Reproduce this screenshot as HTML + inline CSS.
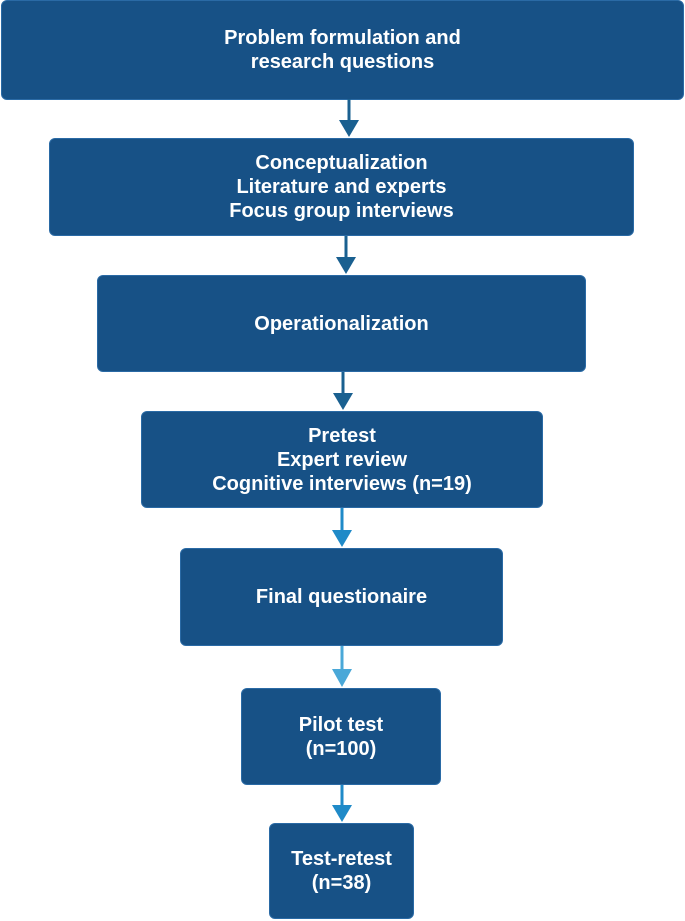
<!DOCTYPE html>
<html><head><meta charset="utf-8"><style>
body{margin:0;width:685px;height:921px;background:#fff;position:relative;overflow:hidden;font-family:"Liberation Sans",sans-serif}
.b{position:absolute;background:#175186;border-radius:6px;color:#fff;font-weight:bold;font-size:20px;line-height:24px;display:flex;align-items:center;justify-content:center;text-align:center;border:1px solid #2a6aa5;box-sizing:border-box}
svg{position:absolute;left:0;top:0}
</style></head><body>
<div class="b" style="left:1px;top:0;width:683px;height:100px">Problem formulation and<br>research questions</div>
<div class="b" style="left:49px;top:138px;width:585px;height:98px">Conceptualization<br>Literature and experts<br>Focus group interviews</div>
<div class="b" style="left:97px;top:275px;width:489px;height:97px">Operationalization</div>
<div class="b" style="left:141px;top:411px;width:402px;height:97px">Pretest<br>Expert review<br>Cognitive interviews (n=19)</div>
<div class="b" style="left:180px;top:548px;width:323px;height:98px">Final questionaire</div>
<div class="b" style="left:241px;top:688px;width:200px;height:97px">Pilot test<br>(n=100)</div>
<div class="b" style="left:269px;top:823px;width:145px;height:96px">Test-retest<br>(n=38)</div>
<svg width="685" height="921">
<g stroke-width="3">
<line x1="349" y1="99" x2="349" y2="122" stroke="#1a6090"/><polygon points="339,120 359,120 349,137" fill="#1a6090"/>
<line x1="346" y1="236" x2="346" y2="259" stroke="#1a6090"/><polygon points="336,257 356,257 346,274" fill="#1a6090"/>
<line x1="343" y1="372" x2="343" y2="395" stroke="#1a6090"/><polygon points="333,393 353,393 343,410" fill="#1a6090"/>
<line x1="342" y1="508" x2="342" y2="532" stroke="#1f8ac8"/><polygon points="332,530 352,530 342,547" fill="#1f8ac8"/>
<line x1="342" y1="646" x2="342" y2="671" stroke="#4aa8d8"/><polygon points="332,669 352,669 342,687" fill="#4aa8d8"/>
<line x1="342" y1="785" x2="342" y2="807" stroke="#1f8ac8"/><polygon points="332,805 352,805 342,822" fill="#1f8ac8"/>
</g></svg>
</body></html>
